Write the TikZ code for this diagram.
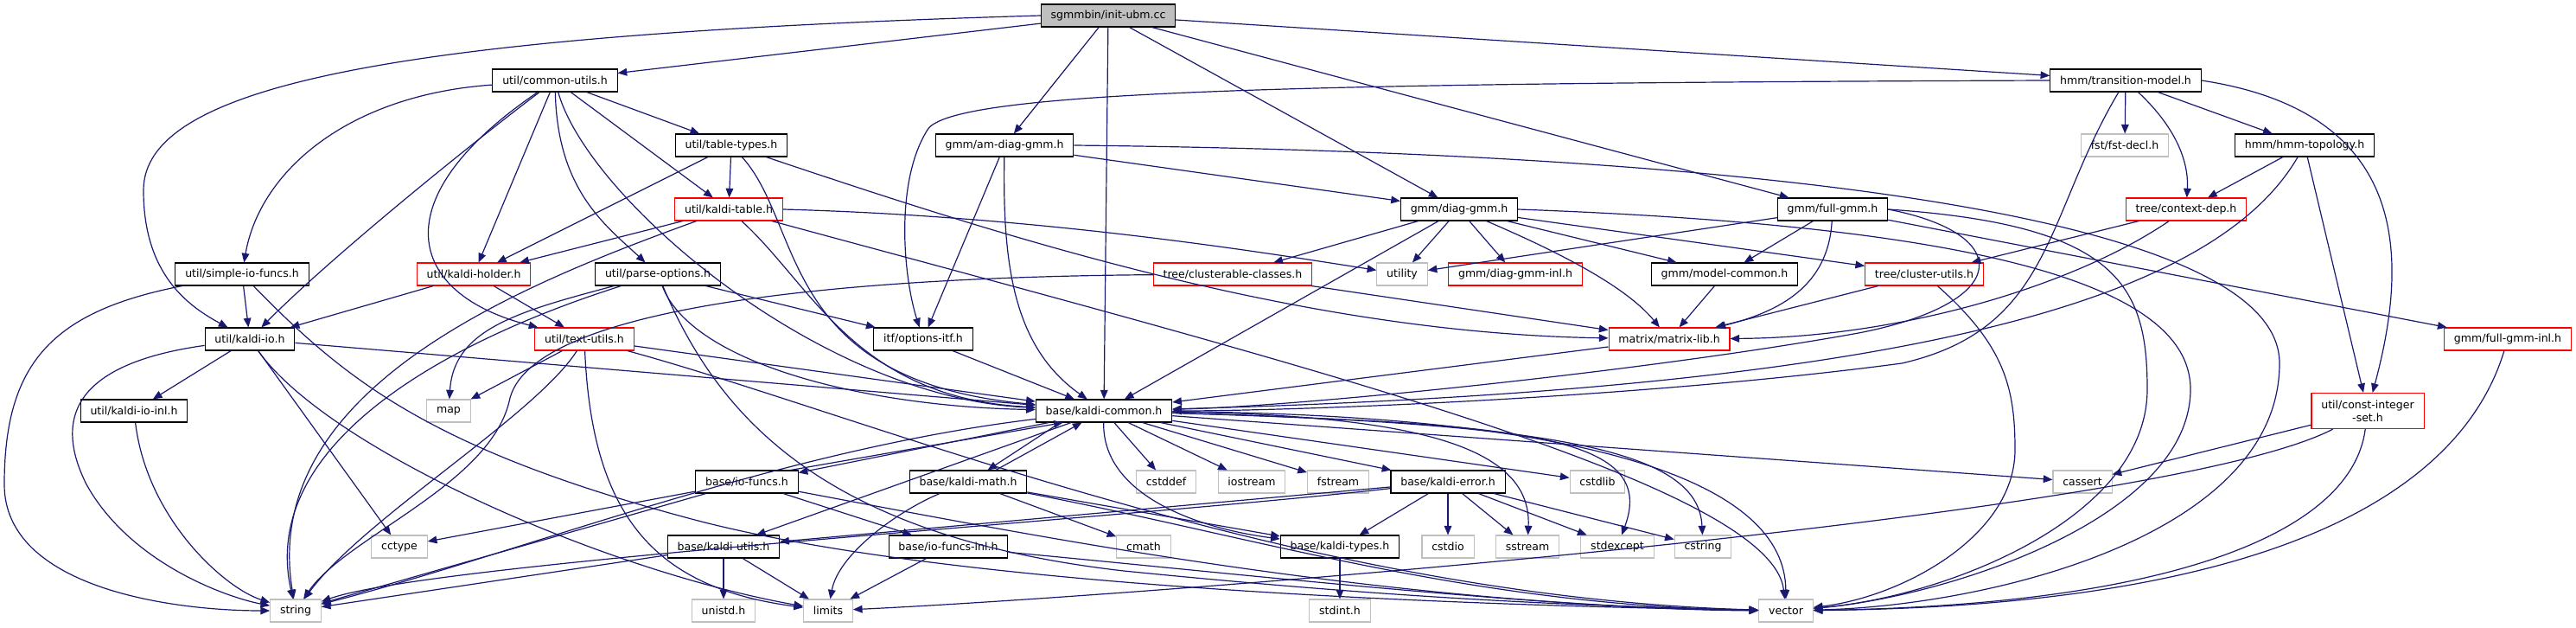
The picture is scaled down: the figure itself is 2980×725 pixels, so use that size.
\documentclass[tikz,border=0pt]{standalone}
\usepackage{fontspec}
\setmainfont{DejaVu Sans}
\usetikzlibrary{arrows.meta}

\definecolor{edgeblue}{HTML}{191970}
\definecolor{sysgray}{HTML}{BFBFBF}

\tikzset{
  hdr/.style={draw=black,fill=white,line width=0.8pt,minimum height=19.5pt,
    inner xsep=8.5pt,inner ysep=0pt,font=\fontsize{9.4}{11.5}\selectfont},
  hdrtrunc/.style={hdr,draw=red},
  syshdr/.style={hdr,draw=sysgray},
  mainfile/.style={hdr,fill=sysgray},
  dep/.style={->,draw=edgeblue,line width=0.9pt}
}

\begin{document}
\begin{tikzpicture}[
    x=0.75pt,y=0.75pt,
    >={Stealth[length=8pt,width=6.5pt,inset=0pt]}
]
\useasboundingbox (0,0) rectangle (2980,-725);

% files
\node[mainfile] (initubm) at (1282,-18) {sgmmbin/init-ubm.cc};
\node[hdr] (commonutils) at (642,-93) {util/common-utils.h};
\node[hdr] (transmodel) at (2459,-93) {hmm/transition-model.h};
\node[hdr] (tabletypes) at (846,-168) {util/table-types.h};
\node[hdr] (amdiaggmm) at (1162,-168) {gmm/am-diag-gmm.h};
\node[syshdr] (fstdecl) at (2458,-168) {fst/fst-decl.h};
\node[hdr] (hmmtopo) at (2666,-168) {hmm/hmm-topology.h};
\node[hdrtrunc] (kalditable) at (843,-242) {util/kaldi-table.h};
\node[hdr] (diaggmm) at (1688,-242) {gmm/diag-gmm.h};
\node[hdr] (fullgmm) at (2120,-242) {gmm/full-gmm.h};
\node[hdrtrunc] (contextdep) at (2529,-242) {tree/context-dep.h};
\node[hdr] (simpleio) at (280,-317) {util/simple-io-funcs.h};
\node[hdrtrunc] (kaldiholder) at (548,-317) {util/kaldi-holder.h};
\node[hdr] (parseopts) at (761,-317) {util/parse-options.h};
\node[hdrtrunc] (clusterable) at (1426,-317) {tree/clusterable-classes.h};
\node[syshdr] (utility) at (1622,-317) {utility};
\node[hdrtrunc] (diaggmminl) at (1753,-317) {gmm/diag-gmm-inl.h};
\node[hdr] (modelcommon) at (1995,-317) {gmm/model-common.h};
\node[hdrtrunc] (clusterutils) at (2226,-317) {tree/cluster-utils.h};
\node[hdr] (kaldiio) at (289,-392) {util/kaldi-io.h};
\node[hdrtrunc] (textutils) at (676,-392) {util/text-utils.h};
\node[hdr] (optionsitf) at (1068,-392) {itf/options-itf.h};
\node[hdrtrunc] (matrixlib) at (1931,-392) {matrix/matrix-lib.h};
\node[hdrtrunc] (fullgmminl) at (2901,-392) {gmm/full-gmm-inl.h};
\node[hdr] (kaldiioinl) at (155,-475) {util/kaldi-io-inl.h};
\node[syshdr] (map) at (519,-475) {map};
\node[hdr] (kaldicommon) at (1277,-475) {base/kaldi-common.h};
\node[hdrtrunc,align=center,minimum height=30.75pt] (constintset) at (2739,-475) {util/const-integer\\-set.h};
\node[hdr] (iofuncs) at (864,-557) {base/io-funcs.h};
\node[hdr] (kaldimath) at (1120,-557) {base/kaldi-math.h};
\node[syshdr] (cstddef) at (1349,-557) {cstddef};
\node[syshdr] (iostream) at (1448,-557) {iostream};
\node[syshdr] (fstream) at (1548,-557) {fstream};
\node[hdr] (kaldierror) at (1675,-557) {base/kaldi-error.h};
\node[syshdr] (cstdlib) at (1848,-557) {cstdlib};
\node[syshdr] (cassert) at (2409,-557) {cassert};
\node[syshdr] (cctype) at (462,-632) {cctype};
\node[hdr] (kaldiutils) at (837,-632) {base/kaldi-utils.h};
\node[hdr] (iofuncsinl) at (1097,-632) {base/io-funcs-inl.h};
\node[syshdr] (cmath) at (1323,-632) {cmath};
\node[hdr] (kalditypes) at (1550,-632) {base/kaldi-types.h};
\node[syshdr] (cstdio) at (1675,-632) {cstdio};
\node[syshdr] (sstream) at (1767,-632) {sstream};
\node[syshdr] (stdexcept) at (1871,-632) {stdexcept};
\node[syshdr] (cstring) at (1970,-632) {cstring};
\node[syshdr] (string) at (342,-706) {string};
\node[syshdr] (unistd) at (837,-706) {unistd.h};
\node[syshdr] (limits) at (958,-706) {limits};
\node[syshdr] (stdint) at (1550,-706) {stdint.h};
\node[syshdr] (vector) at (2066,-706) {vector};

\begin{scope}[dep]
% sgmmbin/init-ubm.cc
\draw (initubm) -- (commonutils);
\draw (initubm.west) .. controls (450,-40) and (166,-100) .. (166,-220) .. controls (166,-310) and (210,-350) .. (kaldiio);
\draw (initubm) -- (amdiaggmm);
\draw (initubm) -- (kaldicommon);
\draw (initubm) -- (diaggmm);
\draw (initubm) -- (fullgmm);
\draw (initubm) -- (transmodel);

% util
\draw (commonutils) .. controls (400,-110) and (300,-200) .. (simpleio);
\draw (commonutils) .. controls (540,-170) and (380,-300) .. (kaldiio);
\draw (commonutils) .. controls (440,-230) and (470,-340) .. (textutils);
\draw (commonutils) -- (kaldiholder);
\draw (commonutils) .. controls (645,-220) and (700,-260) .. (parseopts);
\draw (commonutils) .. controls (680,-230) and (950,-460) .. (kaldicommon);
\draw (commonutils) -- (kalditable);
\draw (commonutils) -- (tabletypes);

\draw (tabletypes) -- (kaldiholder);
\draw (tabletypes) -- (kalditable);
\draw (tabletypes) .. controls (930,-260) and (900,-440) .. (kaldicommon);
\draw (tabletypes) .. controls (1150,-270) and (1500,-385) .. (matrixlib);

\draw (kalditable) -- (kaldiholder);
\draw (kalditable) .. controls (600,-330) and (300,-450) .. (string);
\draw (kalditable) .. controls (940,-330) and (990,-460) .. (kaldicommon);
\draw (kalditable.east) .. controls (1200,-250) and (1450,-290) .. (utility);
\draw (kalditable) .. controls (1500,-420) and (2050,-560) .. (vector);

\draw (simpleio) .. controls (60,-360) and (5,-420) .. (5,-560) .. controls (5,-680) and (200,-706) .. (string.west);
\draw (simpleio) -- (kaldiio);
\draw (simpleio) .. controls (400,-440) and (500,-520) .. (800,-600) .. controls (1100,-680) and (1700,-700) .. (vector);

\draw (kaldiholder) -- (kaldiio);
\draw (kaldiholder) -- (textutils);

\draw (parseopts) .. controls (600,-360) and (525,-380) .. (map);
\draw (parseopts) .. controls (500,-400) and (300,-520) .. (string);
\draw (parseopts) .. controls (830,-480) and (950,-620) .. (1300,-660) .. controls (1600,-690) and (1800,-700) .. (vector);
\draw (parseopts) .. controls (800,-420) and (1000,-470) .. (kaldicommon);
\draw (parseopts) -- (optionsitf);

\draw (kaldiio) -- (kaldiioinl);
\draw (kaldiio) .. controls (90,-420) and (60,-480) .. (100,-560) .. controls (150,-650) and (260,-690) .. (string);
\draw (kaldiio) -- (cctype);
\draw (kaldiio) .. controls (380,-520) and (700,-660) .. (limits);
\draw (kaldiio) -- (kaldicommon);

\draw (kaldiioinl) .. controls (170,-600) and (260,-680) .. (string);

\draw (textutils) -- (map);
\draw (textutils) .. controls (620,-480) and (420,-600) .. (string);
\draw (textutils) .. controls (685,-600) and (760,-680) .. (limits);
\draw (textutils) -- (kaldicommon);
\draw (textutils) .. controls (1000,-480) and (1500,-690) .. (vector);

\draw (optionsitf) -- (kaldicommon);
\draw (matrixlib) -- (kaldicommon);

% gmm
\draw (amdiaggmm) -- (optionsitf);
\draw (amdiaggmm) .. controls (1160,-300) and (1170,-400) .. (kaldicommon);
\draw (amdiaggmm) -- (diaggmm);
\draw (amdiaggmm.east) .. controls (1900,-175) and (2637,-230) .. (2637,-420) .. controls (2637,-620) and (2300,-700) .. (vector);

\draw (diaggmm) -- (clusterable);
\draw (diaggmm) -- (kaldicommon);
\draw (diaggmm) -- (utility);
\draw (diaggmm) -- (diaggmminl);
\draw (diaggmm) -- (modelcommon);
\draw (diaggmm) .. controls (1800,-290) and (1880,-330) .. (matrixlib);
\draw (diaggmm) -- (clusterutils);
\draw (diaggmm.east) .. controls (2250,-260) and (2534,-320) .. (2534,-450) .. controls (2534,-600) and (2250,-690) .. (vector);

\draw (fullgmm) -- (utility);
\draw (fullgmm) -- (modelcommon);
\draw (fullgmm) .. controls (2115,-330) and (2060,-360) .. (matrixlib);
\draw (fullgmm.east) .. controls (2330,-270) and (2330,-350) .. (2150,-385) .. controls (1900,-430) and (1500,-470) .. (kaldicommon);
\draw (fullgmm.east) .. controls (2450,-260) and (2484,-330) .. (2484,-450) .. controls (2484,-600) and (2250,-690) .. (vector);
\draw (fullgmm) -- (fullgmminl);

\draw (modelcommon) -- (matrixlib);
\draw (fullgmminl) .. controls (2850,-560) and (2650,-700) .. (vector);

% tree
\draw (clusterable) .. controls (1000,-320) and (620,-350) .. (590,-460) .. controls (570,-560) and (400,-620) .. (string);
\draw (clusterable) -- (matrixlib);
\draw (clusterutils) -- (matrixlib);
\draw (clusterutils) .. controls (2320,-400) and (2331,-450) .. (2331,-520) .. controls (2331,-620) and (2200,-690) .. (vector);
\draw (contextdep) -- (clusterutils);
\draw (contextdep) .. controls (2400,-330) and (2200,-390) .. (matrixlib);

% hmm
\draw (transmodel.west) .. controls (1500,-96) and (1100,-105) .. (1073,-150) .. controls (1035,-210) and (1045,-320) .. (optionsitf);
\draw (transmodel) .. controls (2365,-250) and (2375,-380) .. (2200,-420) .. controls (1900,-460) and (1500,-475) .. (kaldicommon);
\draw (transmodel) -- (fstdecl);
\draw (transmodel) .. controls (2520,-150) and (2532,-190) .. (contextdep);
\draw (transmodel) -- (hmmtopo);
\draw (transmodel.east) .. controls (2790,-130) and (2786,-300) .. (constintset);

\draw (hmmtopo) -- (contextdep);
\draw (hmmtopo) .. controls (2560,-350) and (2200,-450) .. (kaldicommon);
\draw (hmmtopo) -- (constintset);

\draw (constintset) -- (cassert);
\draw (constintset) .. controls (2500,-600) and (1300,-690) .. (limits);
\draw (constintset) .. controls (2720,-620) and (2500,-700) .. (vector);

% base
\draw (kaldicommon) .. controls (900,-520) and (600,-640) .. (string);
\draw (kaldicommon.192) -- (iofuncs.10);
\draw (iofuncs.15) -- (kaldicommon.196);
\draw (kaldicommon.195) -- (kaldimath.31);
\draw (kaldimath.23) -- (kaldicommon.208);
\draw (kaldicommon) -- (kaldiutils);
\draw (kaldicommon) -- (cstddef);
\draw (kaldicommon) -- (iostream);
\draw (kaldicommon) -- (fstream);
\draw (kaldicommon) -- (kaldierror);
\draw (kaldicommon) -- (cstdlib);
\draw (kaldicommon) .. controls (1650,-480) and (1772,-520) .. (sstream);
\draw (kaldicommon) .. controls (1750,-490) and (1920,-500) .. (stdexcept);
\draw (kaldicommon) .. controls (1800,-490) and (1965,-520) .. (cstring);
\draw (kaldicommon) .. controls (1850,-480) and (2065,-560) .. (vector);
\draw (kaldicommon) -- (cassert);
\draw (kaldicommon) .. controls (1275,-570) and (1380,-610) .. (kalditypes);

\draw (kaldimath) .. controls (1040,-590) and (970,-640) .. (limits);
\draw (kaldimath) -- (cmath);
\draw (kaldimath) -- (kalditypes);
\draw (kaldimath) .. controls (1450,-620) and (1700,-700) .. (vector);

\draw (kaldierror) -- (kaldiutils);
\draw (kaldierror) .. controls (1300,-600) and (500,-650) .. (string);
\draw (kaldierror) -- (kalditypes);
\draw (kaldierror) -- (cstdio);
\draw (kaldierror) -- (sstream);
\draw (kaldierror) -- (stdexcept);
\draw (kaldierror) -- (cstring);

\draw (iofuncs) -- (cctype);
\draw (iofuncs) -- (string);
\draw (iofuncs) -- (iofuncsinl);
\draw (iofuncs) .. controls (1200,-620) and (1600,-700) .. (vector);

\draw (kaldiutils) -- (string);
\draw (kaldiutils) -- (unistd);
\draw (kaldiutils) -- (limits);

\draw (iofuncsinl) -- (limits);
\draw (iofuncsinl) .. controls (1400,-660) and (1800,-705) .. (vector);

\draw (kalditypes) -- (stdint);
\end{scope}
\end{tikzpicture}
\end{document}
